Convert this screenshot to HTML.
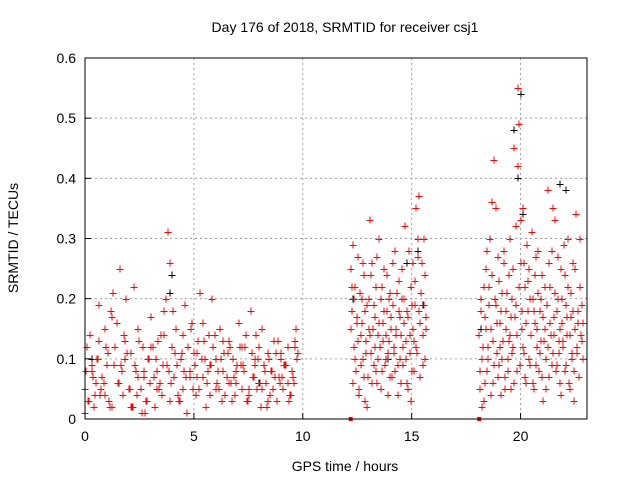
<!DOCTYPE html>
<html><head><meta charset="utf-8"><style>
body{margin:0;background:#fff;}
svg{display:block;font-family:"Liberation Sans",sans-serif;}
</style></head><body>
<svg id="chart" width="640" height="480" viewBox="0 0 640 480">
<text x="345" y="32" font-size="14" text-anchor="middle">Day 176 of 2018, SRMTID for receiver csj1</text>
<text x="345" y="471" font-size="14" text-anchor="middle">GPS time / hours</text>
<text x="18" y="238" font-size="14" text-anchor="middle" transform="rotate(-90 18 238)">SRMTID / TECUs</text>
<g id="grid"></g>
<g id="ticks"></g>
<g id="black"></g>
<g id="red"></g>
<rect x="85" y="58" width="502" height="361" fill="none" stroke="#000" stroke-width="1"/>
</svg>
<script>
const xTicks=[0,5,10,15,20];
const yTicks=[0,0.1,0.2,0.3,0.4,0.5,0.6];
const yTickLabels=["0","0.1","0.2","0.3","0.4","0.5","0.6"];
const redT1=[0.0,0.1,0.2,0.3,0.4,0.5,0.6,0.7,0.8,0.9,1.0,1.1,1.2,1.3,1.4,1.5,1.6,1.7,1.8,1.9,2.0,2.1,2.2,2.3,2.4,2.5,2.6,2.7,2.8,2.9,3.0,3.1,3.2,3.3,3.4,3.5,3.6,3.7,3.8,3.9,4.0,4.1,4.2,4.3,4.4,4.5,4.6,4.7,4.8,4.9,5.0,5.1,5.2,5.3,5.4,5.5,5.6,5.7,5.8,5.9,6.0,6.1,6.2,6.3,6.4,6.5,6.6,6.7,6.8,6.9,7.0,7.1,7.2,7.3,7.4,7.5,7.6,7.7,7.8,7.9,8.0,8.1,8.2,8.3,8.4,8.5,8.6,8.7,8.8,8.9,9.0,9.1,9.2,9.3,9.4,9.5,9.6,9.7,9.8];
const redV1=[0.05,0.12,0.03,0.08,0.02,0.06,0.10,0.04,0.07,0.15,0.09,0.03,0.18,0.21,0.12,0.06,0.25,0.08,0.14,0.20,0.05,0.11,0.02,0.09,0.04,0.13,0.01,0.07,0.03,0.10,0.06,0.12,0.02,0.08,0.05,0.14,0.09,0.20,0.31,0.26,0.12,0.07,0.15,0.03,0.10,0.05,0.19,0.01,0.08,0.16,0.11,0.04,0.13,0.21,0.07,0.10,0.06,0.14,0.09,0.12,0.05,0.08,0.15,0.03,0.11,0.07,0.13,0.06,0.10,0.04,0.09,0.12,0.05,0.08,0.14,0.03,0.18,0.07,0.10,0.05,0.12,0.02,0.09,0.06,0.11,0.04,0.08,0.13,0.03,0.07,0.10,0.05,0.09,0.12,0.04,0.08,0.06,0.15,0.11];
const redT1b=[0.05,0.25,0.45,0.65,0.85,1.05,1.25,1.45,1.65,1.85,2.05,2.25,2.45,2.65,2.85,3.05,3.25,3.45,3.65,3.85,4.05,4.25,4.45,4.65,4.85,5.05,5.25,5.45,5.65,5.85,6.05,6.25,6.45,6.65,6.85,7.05,7.25,7.45,7.65,7.85,8.05,8.25,8.45,8.65,8.85,9.05,9.25,9.45,9.65];
const redV1b=[0.08,0.14,0.04,0.19,0.06,0.11,0.02,0.16,0.09,0.13,0.05,0.22,0.07,0.12,0.03,0.17,0.10,0.06,0.14,0.08,0.18,0.04,0.11,0.07,0.15,0.09,0.05,0.13,0.08,0.20,0.06,0.10,0.04,0.12,0.07,0.16,0.09,0.03,0.11,0.14,0.06,0.08,0.10,0.05,0.13,0.07,0.09,0.04,0.12];
const redT1c=[0.15,0.35,0.55,0.75,0.95,1.15,1.35,1.55,1.75,1.95,2.15,2.35,2.55,2.75,2.95,3.15,3.35,3.55,3.75,3.95,4.15,4.35,4.55,4.75,4.95,5.15,5.35,5.55,5.75,5.95,6.15,6.35,6.55,6.75,6.95,7.15,7.35,7.55,7.75,7.95,8.15,8.35,8.55,8.75,8.95,9.15,9.35,9.55,9.75];
const redV1c=[0.03,0.07,0.10,0.05,0.12,0.02,0.09,0.06,0.04,0.11,0.02,0.08,0.05,0.01,0.10,0.07,0.13,0.04,0.09,0.06,0.11,0.03,0.08,0.12,0.05,0.07,0.10,0.02,0.09,0.14,0.05,0.08,0.11,0.03,0.06,0.09,0.12,0.04,0.07,0.10,0.05,0.02,0.08,0.11,0.06,0.09,0.03,0.07,0.10];
const redT1d=[0.02,0.32,0.62,0.92,1.22,1.52,1.82,2.12,2.42,2.72,3.02,3.32,3.62,3.92,4.22,4.52,4.82,5.12,5.42,5.72,6.02,6.32,6.62,6.92,7.22,7.52,7.82,8.12,8.42,8.72,9.02,9.32,9.62];
const redV1d=[0.01,0.09,0.13,0.04,0.17,0.06,0.10,0.02,0.15,0.08,0.12,0.05,0.18,0.03,0.09,0.14,0.07,0.11,0.16,0.04,0.10,0.13,0.06,0.08,0.12,0.05,0.09,0.15,0.03,0.07,0.11,0.06,0.13];
const redT2=[12.20,12.25,12.30,12.35,12.40,12.45,12.50,12.55,12.60,12.65,12.70,12.75,12.80,12.85,12.90,12.95,13.00,13.05,13.10,13.15,13.20,13.25,13.30,13.35,13.40,13.45,13.50,13.55,13.60,13.65,13.70,13.75,13.80,13.85,13.90,13.95,14.00,14.05,14.10,14.15,14.20,14.25,14.30,14.35,14.40,14.45,14.50,14.55,14.60,14.65,14.70,14.75,14.80,14.85,14.90,14.95,15.00,15.05,15.10,15.15,15.20,15.25,15.30,15.35,15.40,15.45,15.50,15.55,15.60,15.65];
const redV2=[0.25,0.18,0.29,0.12,0.22,0.08,0.16,0.27,0.05,0.14,0.20,0.10,0.24,0.03,0.13,0.19,0.07,0.15,0.33,0.11,0.26,0.09,0.17,0.22,0.06,0.14,0.30,0.12,0.20,0.08,0.16,0.25,0.10,0.18,0.04,0.13,0.21,0.15,0.07,0.19,0.11,0.28,0.14,0.09,0.23,0.17,0.06,0.20,0.12,0.16,0.32,0.10,0.18,0.05,0.14,0.22,0.08,0.26,0.13,0.19,0.35,0.11,0.27,0.37,0.16,0.21,0.09,0.30,0.24,0.15];
const redT2b=[12.22,12.27,12.32,12.37,12.42,12.47,12.52,12.57,12.62,12.67,12.72,12.77,12.82,12.87,12.92,12.97,13.02,13.07,13.12,13.17,13.22,13.27,13.32,13.37,13.42,13.47,13.52,13.57,13.62,13.67,13.72,13.77,13.82,13.87,13.92,13.97,14.02,14.07,14.12,14.17,14.22,14.27,14.32,14.37,14.42,14.47,14.52,14.57,14.62,14.67,14.72,14.77,14.82,14.87,14.92,14.97,15.02,15.07,15.12,15.17,15.22,15.27,15.32,15.37,15.42,15.47,15.52,15.57,15.62,15.67];
const redV2b=[0.15,0.22,0.06,0.20,0.10,0.17,0.13,0.04,0.21,0.09,0.16,0.26,0.07,0.18,0.11,0.02,0.20,0.14,0.24,0.06,0.15,0.19,0.12,0.08,0.27,0.10,0.16,0.05,0.22,0.13,0.18,0.09,0.14,0.24,0.11,0.20,0.07,0.17,0.26,0.12,0.08,0.15,0.21,0.04,0.18,0.10,0.14,0.25,0.09,0.20,0.13,0.06,0.17,0.28,0.11,0.03,0.19,0.15,0.08,0.23,0.12,0.30,0.18,0.07,0.21,0.26,0.14,0.19,0.10,0.17];
const redT3=[18.10,18.15,18.20,18.25,18.30,18.35,18.40,18.45,18.50,18.55,18.60,18.65,18.70,18.75,18.80,18.85,18.90,18.95,19.00,19.05,19.10,19.15,19.20,19.25,19.30,19.35,19.40,19.45,19.50,19.55,19.60,19.65,19.70,19.75,19.80,19.85,19.90,19.95,20.00,20.05,20.10,20.15,20.20,20.25,20.30,20.35,20.40,20.45,20.50,20.55,20.60,20.65,20.70,20.75,20.80,20.85,20.90,20.95,21.00,21.05,21.10,21.15,21.20,21.25,21.30,21.35,21.40,21.45,21.50,21.55,21.60,21.65,21.70,21.75,21.80,21.85,21.90,21.95,22.00,22.05,22.10,22.15,22.20,22.25,22.30,22.35,22.40,22.45,22.50,22.55,22.60,22.65,22.70,22.75,22.80,22.85];
const redV3=[0.14,0.05,0.20,0.10,0.03,0.17,0.25,0.08,0.12,0.22,0.30,0.15,0.36,0.06,0.43,0.19,0.11,0.27,0.09,0.16,0.04,0.21,0.13,0.28,0.07,0.18,0.10,0.24,0.14,0.05,0.20,0.12,0.45,0.17,0.32,0.08,0.55,0.49,0.26,0.15,0.35,0.11,0.22,0.06,0.29,0.18,0.25,0.09,0.14,0.20,0.05,0.16,0.27,0.12,0.21,0.08,0.18,0.13,0.24,0.03,0.15,0.10,0.19,0.38,0.07,0.22,0.14,0.28,0.11,0.17,0.33,0.09,0.20,0.13,0.06,0.25,0.16,0.12,0.29,0.08,0.19,0.14,0.22,0.05,0.17,0.10,0.26,0.03,0.15,0.34,0.11,0.18,0.07,0.30,0.13,0.16];
const redT3b=[18.12,18.17,18.22,18.27,18.32,18.37,18.42,18.47,18.52,18.57,18.62,18.67,18.72,18.77,18.82,18.87,18.92,18.97,19.02,19.07,19.12,19.17,19.22,19.27,19.32,19.37,19.42,19.47,19.52,19.57,19.62,19.67,19.72,19.77,19.82,19.87,19.92,19.97,20.02,20.07,20.12,20.17,20.22,20.27,20.32,20.37,20.42,20.47,20.52,20.57,20.62,20.67,20.72,20.77,20.82,20.87,20.92,20.97,21.02,21.07,21.12,21.17,21.22,21.27,21.32,21.37,21.42,21.47,21.52,21.57,21.62,21.67,21.72,21.77,21.82,21.87,21.92,21.97,22.02,22.07,22.12,22.17,22.22,22.27,22.32,22.37,22.42,22.47,22.52,22.57,22.62,22.67,22.72,22.77,22.82,22.87];
const redV3b=[0.08,0.18,0.02,0.12,0.22,0.06,0.15,0.28,0.10,0.19,0.04,0.24,0.13,0.09,0.20,0.35,0.16,0.07,0.23,0.12,0.18,0.10,0.26,0.05,0.15,0.21,0.08,0.13,0.30,0.17,0.11,0.25,0.06,0.19,0.14,0.42,0.22,0.09,0.33,0.18,0.12,0.26,0.07,0.16,0.23,0.10,0.20,0.14,0.31,0.06,0.18,0.24,0.09,0.15,0.28,0.11,0.20,0.07,0.17,0.13,0.22,0.05,0.19,0.12,0.26,0.16,0.09,0.35,0.14,0.21,0.08,0.18,0.27,0.11,0.15,0.04,0.20,0.13,0.24,0.09,0.17,0.30,0.06,0.14,0.21,0.11,0.18,0.08,0.25,0.12,0.16,0.07,0.22,0.14,0.19,0.10];
const blackT=[0.3,1.2,3.9,4.0,8.0,12.3,13.9,14.8,15.3,15.5,18.2,19.7,19.9,20.0,20.1,21.8,22.1];
const blackV=[0.10,0.18,0.21,0.24,0.06,0.20,0.10,0.26,0.28,0.19,0.15,0.48,0.40,0.54,0.34,0.39,0.38];
const zeroMarksT=[12.2,18.1];

const X0=85,X1=587,Y0=419,Y1=58,XMAX=23.05,YMAX=0.6;
const sx=t=>X0+t/XMAX*(X1-X0);
const sy=v=>Y0-v/YMAX*(Y0-Y1);
const NS='http://www.w3.org/2000/svg';
function mk(tag,attrs,parent){const e=document.createElementNS(NS,tag);for(const k in attrs)e.setAttribute(k,attrs[k]);parent.appendChild(e);return e;}
const grid=document.getElementById('grid'),ticks=document.getElementById('ticks');
xTicks.forEach(t=>{
  const x=sx(t);
  if(t>0){const g=mk('line',{x1:x,x2:x,y1:Y1,y2:Y0,stroke:'#a0a0a0','stroke-dasharray':'2,3'},grid);
  
  }
  const l=mk('line',{x1:x,x2:x,y1:Y0,y2:Y0-6,stroke:'#000'},ticks);
  
  
  const tx=mk('text',{x:x,y:Y0+22,'font-size':14,'text-anchor':'middle'},ticks);tx.textContent=t;
  
  
});
yTicks.forEach((v,i)=>{
  const y=sy(v);
  if(v>0&&v<YMAX){const g=mk('line',{x1:X0,x2:X1,y1:y,y2:y,stroke:'#a0a0a0','stroke-dasharray':'2,3'},grid);
  
  }
  const l=mk('line',{x1:X0,x2:X0+6,y1:y,y2:y,stroke:'#000'},ticks);
  
  
  const tx=mk('text',{x:X0-9,y:y+5,'font-size':14,'text-anchor':'end'},ticks);tx.textContent=yTickLabels[i];
  
  
});
function plus(g,t,v,c){
  const x=Math.round(sx(t))+0.5,y=Math.round(sy(v))+0.5;
  const p=mk('path',{d:`M${x-4},${y}H${x+3}M${x-0.5},${y-4}V${y+3}`,stroke:c,'stroke-width':1,fill:'none'},g);
  
  
}
const bg=document.getElementById('black'),rg=document.getElementById('red');
blackT.forEach((t,i)=>plus(bg,t,blackV[i],'#000'));
[[redT1,redV1],[redT1b,redV1b],[redT1c,redV1c],[redT1d,redV1d],[redT2,redV2],[redT2b,redV2b],[redT3,redV3],[redT3b,redV3b]].forEach(([T,V])=>T.forEach((t,i)=>plus(rg,t,V[i],'#f00')));
zeroMarksT.forEach(t=>{const r=mk('rect',{x:sx(t)-2,y:Y0-2,width:4,height:4,fill:'#f00'},rg);

});
</script>
</body></html>
